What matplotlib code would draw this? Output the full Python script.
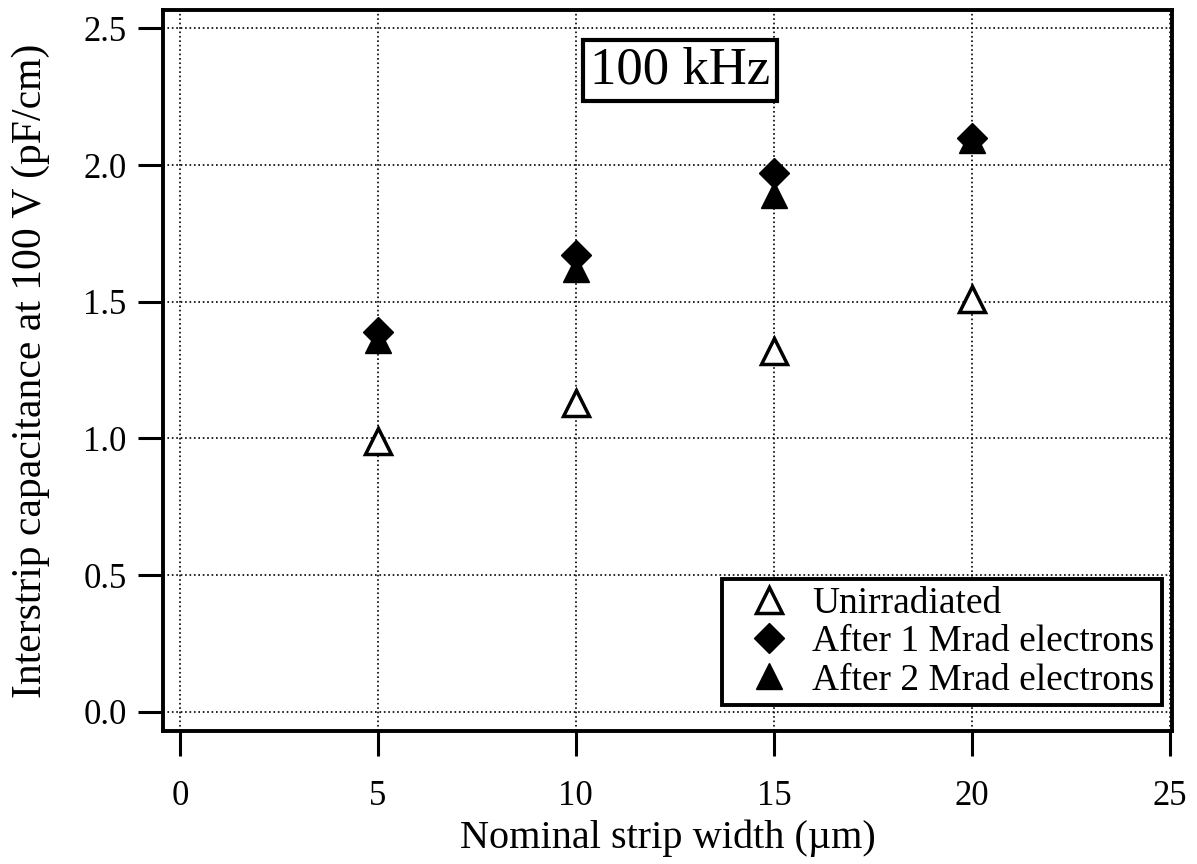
import numpy as np
import matplotlib
matplotlib.use("Agg")
import matplotlib.pyplot as plt

# strip widths (um) and interstrip capacitance at 100 V (pF/cm)
widths = [5, 10, 15, 20]
unirradiated = [0.99, 1.13, 1.32, 1.51]
after_1mrad = [1.39, 1.67, 1.97, 2.10]
after_2mrad = [1.36, 1.62, 1.89, 2.09]

x_ticks = [0, 5, 10, 15, 20, 25]
y_ticks = [0.0, 0.5, 1.0, 1.5, 2.0, 2.5]

plt.rcParams['font.family'] = ['Liberation Serif', 'DejaVu Serif']

fig = plt.figure(figsize=(11.97, 8.64), dpi=100)
ax = fig.add_axes([0.136, 0.154, 0.843, 0.834])

#Data points
ax.plot(widths, unirradiated, linestyle='none', marker='^', markersize=19,
        markerfacecolor='white', markeredgecolor='black', markeredgewidth=2.5,
        label='Unirradiated', zorder=3)
ax.plot(widths, after_1mrad, linestyle='none', marker='D', markersize=15,
        color='black', label='After 1 Mrad electrons', zorder=3)
ax.plot(widths, after_2mrad, linestyle='none', marker='^', markersize=19,
        color='black', label='After 2 Mrad electrons', zorder=3)

ax.set_xlim(-0.43, 25.05)
ax.set_ylim(-0.07, 2.566)
ax.set_xticks(x_ticks)
ax.set_yticks(y_ticks)
ax.set_yticklabels(['%.1f' % v for v in y_ticks])

ax.grid(True, color='black', linestyle=':', linewidth=1.2)
ax.set_axisbelow(True)

for spine in ax.spines.values():
    spine.set_linewidth(2.8)

ax.tick_params(direction='out', length=18, width=2.2, labelsize=25)
ax.tick_params(axis='x', pad=17)
ax.tick_params(axis='y', pad=8)

ax.set_xlabel('Nominal strip width (\u00b5m)', fontsize=29)
ax.set_ylabel('Interstrip capacitance at 100 V (pF/cm)', fontsize=30)
ax.xaxis.set_label_coords(0.501, -0.123)
ax.yaxis.set_label_coords(-0.112, 0.5)

#Frequency label box
ax.text(12.62, 2.346, '100 kHz', fontsize=38, ha='center', va='center',
        bbox=dict(boxstyle='square,pad=0.13', facecolor='white',
                  edgecolor='black', linewidth=3))

leg = ax.legend(loc='lower right', bbox_to_anchor=(0.99, 0.036), fontsize=27,
                frameon=True, fancybox=False, framealpha=1, edgecolor='black',
                borderpad=0.2, labelspacing=0.1, handletextpad=0.1,
                handlelength=2.1, borderaxespad=0)
leg.get_frame().set_linewidth(2.8)

fig.savefig('out.png', dpi=100)
